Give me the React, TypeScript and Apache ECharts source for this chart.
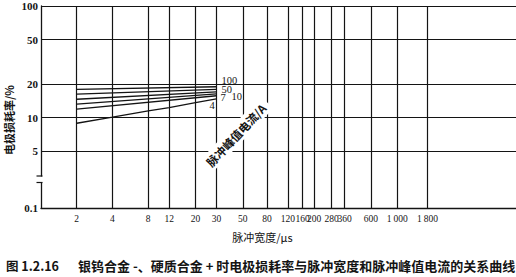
import React, { useEffect, useRef } from "react";
import * as echarts from "echarts";

// pulse width (μs) tick labels on the log x axis
const xTicks = [2, 4, 8, 12, 20, 30, 50, 80, 120, 160, 200, 280, 360, 600, 1000, 1800];
// electrode loss (%) tick labels on the log y axis (0.1 sits at the broken bottom)
const yTicks = [5, 10, 20, 50, 100];
const yBottomLabel = "0.1";

// series: pulse peak current (A)
const currentNames = ["100", "50", "20", "10", "7", "4"];
const widthsShort = [2, 30];
const loss100 = [17.9, 18.9];
const loss50 = [16.2, 17.9];
const loss20 = [14.6, 17.0];
const loss10 = [13.2, 16.3];
const loss7 = [11.9, 15.7];
const widths4 = [2, 4, 8, 12, 20, 30];
const loss4 = [8.9, 10.1, 11.5, 12.3, 13.6, 14.7];

const X_MIN = 0; // log10(1)
const X_MAX = 4; // log10(10000)
const Y_MAX = 2; // log10(100)
const Y_MIN = 0.19; // broken axis bottom

const lg = (v: number) => Math.log10(v);

const fmtX = (v: number) => {
  const n = Math.round(Math.pow(10, v));
  return n >= 1000 ? String(n).replace(/(\d)(\d{3})$/, "$1\u2009$2") : String(n);
};

export default function App() {
  const ref = useRef<HTMLDivElement>(null);
  useEffect(() => {
    if (!ref.current) return;
    const chart = echarts.init(ref.current, undefined, { renderer: "svg" });
    const ink = "#141414";
    const serif = "'Liberation Serif', 'DejaVu Serif', serif";
    const cjk = "'Noto Sans CJK SC', sans-serif";

    const mk = (xs: number[], ys: number[]) => xs.map((x, i) => [lg(x), lg(ys[i])]);
    const seriesData = [
      mk(widthsShort, loss100),
      mk(widthsShort, loss50),
      mk(widthsShort, loss20),
      mk(widthsShort, loss10),
      mk(widthsShort, loss7),
      mk(widths4, loss4),
    ];
    const labelOffsets: ([number, number] | null)[] = [
      [0, -6],
      [0, 0],
      null,
      [10, 3],
      [-1, 2],
      [-12, 7],
    ];

    chart.setOption({
      animation: false,
      grid: { left: 41, right: 0, top: 6, bottom: 69, containLabel: false },
      xAxis: {
        type: "value",
        min: X_MIN,
        max: X_MAX,
        axisLine: { show: true, lineStyle: { color: ink, width: 1.3 } },
        axisTick: { show: false, customValues: xTicks.map(lg) },
        axisLabel: {
          customValues: xTicks.map(lg),
          formatter: fmtX,
          color: ink,
          fontFamily: serif,
          fontSize: 9.5,
          margin: 6,
          hideOverlap: false,
        },
        splitLine: { show: true, lineStyle: { color: ink, width: 1.2 } },
        name: "脉冲宽度/μs",
        nameLocation: "middle",
        nameGap: 23,
        nameTextStyle: { color: ink, fontFamily: cjk, fontSize: 11, padding: [0, 32, 0, 0] },
      },
      yAxis: {
        type: "value",
        min: Y_MIN,
        max: Y_MAX,
        axisLine: { show: true, lineStyle: { color: ink, width: 1.3 } },
        axisTick: { show: false, customValues: [Y_MIN, ...yTicks.map(lg)] },
        axisLabel: {
          customValues: [Y_MIN, ...yTicks.map(lg)],
          formatter: (v: number) =>
            Math.abs(v - Y_MIN) < 1e-6 ? yBottomLabel : String(Math.round(Math.pow(10, v))),
          color: ink,
          fontFamily: serif,
          fontWeight: "bold",
          fontSize: 11,
          margin: 3,
        },
        splitLine: { show: true, lineStyle: { color: ink, width: 1.2 } },
      },
      series: seriesData.map((d, i) => ({
        type: "line",
        name: currentNames[i],
        data: d,
        showSymbol: false,
        symbol: "none",
        lineStyle: { color: ink, width: 1.3 },
        z: 3,
        endLabel: labelOffsets[i]
          ? {
              show: true,
              formatter: currentNames[i],
              offset: labelOffsets[i],
              color: ink,
              fontFamily: serif,
              fontSize: 10.5,
              lineHeight: 8,
              distance: 5,
            }
          : { show: false },
      })),
      graphic: [
        // y axis break
        { type: "rect", shape: { x: 36, y: 176.5, width: 8, height: 5.5 }, style: { fill: "#fff" }, z: 100 },
        { type: "line", shape: { x1: 36.5, y1: 176, x2: 42.5, y2: 176 }, style: { stroke: ink, lineWidth: 1.2 }, z: 101 },
        { type: "line", shape: { x1: 36.5, y1: 182.5, x2: 42.5, y2: 182.5 }, style: { stroke: ink, lineWidth: 1.2 }, z: 101 },
        {
          type: "text",
          x: 9,
          y: 120,
          rotation: Math.PI / 2,
          style: {
            text: "电极损耗率/%",
            fill: ink,
            font: `bold 11px ${cjk}`,
            align: "center",
            verticalAlign: "middle",
          },
        },
        {
          type: "text",
          x: 236,
          y: 135,
          rotation: (46.5 * Math.PI) / 180,
          z: 100,
          style: {
            text: "脉冲峰值电流/A",
            fill: ink,
            font: `bold 11.5px ${cjk}`,
            align: "center",
            verticalAlign: "middle",
            backgroundColor: "#fff",
            padding: [3, 5],
          },
        },
        {
          type: "text",
          x: 6,
          y: 265,
          style: {
            text: "图 1.2.16",
            fill: ink,
            font: `bold 12.5px ${cjk}`,
            verticalAlign: "middle",
          },
        },
        {
          type: "text",
          x: 78,
          y: 265,
          style: {
            text: "银钨合金 -、硬质合金 + 时电极损耗率与脉冲宽度和脉冲峰值电流的关系曲线",
            fill: ink,
            font: `bold 13px ${cjk}`,
            verticalAlign: "middle",
          },
        },
      ],
    });
    return () => chart.dispose();
  }, []);
  return (
    <div
      ref={ref}
      style={{ position: "fixed", left: 0, top: 0, width: 516, height: 277, background: "#fff" }}
    />
  );
}
